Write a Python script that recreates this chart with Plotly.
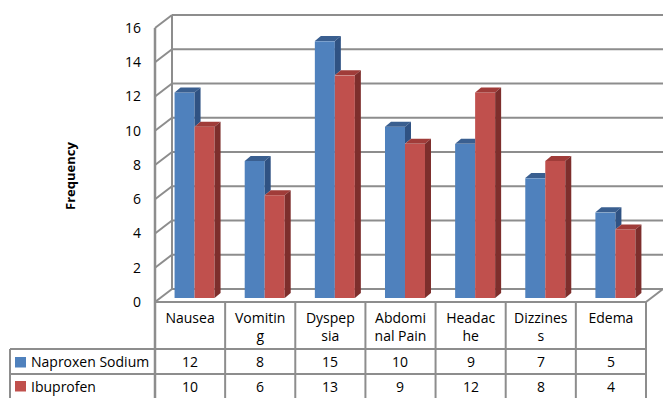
import plotly.graph_objects as go

# ---- data -------------------------------------------------------------
categories = ["Nausea", "Vomiting", "Dyspepsia", "Abdominal Pain",
              "Headache", "Dizziness", "Edema"]
header_labels = ["Nausea", "Vomitin<br>g", "Dyspep<br>sia", "Abdomi<br>nal Pain",
                 "Headac<br>he", "Dizzines<br>s", "Edema"]
naproxen = [12, 8, 15, 10, 9, 7, 5]
ibuprofen = [10, 6, 13, 9, 12, 8, 4]
series_names = ["Naproxen Sodium", "Ibuprofen"]
y_ticks = [0, 2, 4, 6, 8, 10, 12, 14, 16]

# ---- page geometry (pixels) ------------------------------------------
W, H = 663, 398
X0 = 155.0      # front-left edge of the plot floor
CW = 70.14      # width of one category column
Y0 = 302.0      # front zero line
UV = 17.125     # pixels per unit of frequency

def vx(px):
    return (px - X0) / CW

def vy(py):
    return (Y0 - py) / UV

# 3-D projection offsets expressed in axis units
WDX, WDY = 17 / CW, 13 / UV      # depth of the walls
BDX, BDY = 4.5 / CW, 4 / UV      # front face of the columns
SDX, SDY = 6 / CW, 5 / UV        # depth of each column
BW = 20 / CW                     # column width

FONT = "Open Sans"
BLUE, BLUE_TOP, BLUE_SIDE = "#4F81BD", "#3A5F90", "#2F5283"
RED, RED_TOP, RED_SIDE = "#C0504D", "#A03C39", "#7D2E2C"
GRID = "#8D8D8D"

n = len(categories)
fig = go.Figure()

# front faces of the columns
for vals, name, color, side in [(naproxen, series_names[0], BLUE, -1),
                                (ibuprofen, series_names[1], RED, 1)]:
    fig.add_trace(go.Bar(
        x=[i + 0.5 + BDX + side * BW / 2 for i in range(n)],
        y=vals,
        base=[BDY] * n,
        width=BW,
        name=name,
        marker=dict(color=color, line=dict(width=0)),
        showlegend=False,
        hovertemplate="%{y}<extra>" + name + "</extra>",
    ))

shapes = []

def poly(pts, color, layer="above"):
    path = "M " + " L ".join(f"{x:.5f},{y:.5f}" for x, y in pts) + " Z"
    return dict(type="path", path=path, xref="x", yref="y",
                fillcolor=color, line=dict(width=0), layer=layer)

def seg(x0, y0, x1, y1, color=GRID, width=2, layer="below"):
    return dict(type="line", x0=x0, y0=y0, x1=x1, y1=y1, xref="x", yref="y",
                line=dict(color=color, width=width), layer=layer)

# walls and floor
x_right = vx(W)
for t in y_ticks:
    shapes.append(seg(WDX, t + WDY, x_right, t + WDY))      # back wall
    shapes.append(seg(0, t, WDX, t + WDY))                  # side wall
shapes.append(seg(WDX, WDY, WDX, y_ticks[-1] + WDY))        # back corner
shapes.append(seg(n, 0, n + WDX, WDY))                      # floor right edge

# tops and sides of the columns
for i in range(n):
    pc = i + 0.5 + BDX
    tb = BDY + naproxen[i]
    tr = BDY + ibuprofen[i]
    bl, br = pc - BW, pc
    if tb > tr:
        shapes.append(poly([(bl, tb), (br, tb), (br + SDX, tb + SDY), (bl + SDX, tb + SDY)], BLUE_TOP))
        shapes.append(poly([(br, tr), (br, tb), (br + SDX, tb + SDY), (br + SDX, tr + SDY)], BLUE_SIDE))
    else:
        shapes.append(poly([(bl, tb), (br, tb), (br, tb + SDY), (bl + SDX, tb + SDY)], BLUE_TOP))
    rl, rr = pc, pc + BW
    shapes.append(poly([(rl, tr), (rr, tr), (rr + SDX, tr + SDY), (rl + SDX, tr + SDY)], RED_TOP))
    shapes.append(poly([(rr, BDY), (rr, tr), (rr + SDX, tr + SDY), (rr + SDX, BDY + SDY)], RED_SIDE))

# data table grid
y_bottom = vy(H + 2)
row1, row2 = vy(349), vy(374)
shapes.append(seg(0, y_ticks[-1], 0, y_bottom, width=2.5, layer="above"))   # front-left edge
shapes.append(seg(0, 0, n, 0, layer="above"))                               # floor front / table top
for k in range(1, n + 1):
    shapes.append(seg(k, 0, k, y_bottom, layer="above"))
for yy in (row1, row2):
    shapes.append(seg(vx(10), yy, n, yy, layer="above"))
shapes.append(seg(vx(10), row1, vx(10), y_bottom, layer="above"))

# legend keys inside the table
for color, top in [(BLUE, 357), (RED, 381)]:
    shapes.append(dict(type="rect", xref="x", yref="y",
                       x0=vx(15), x1=vx(26), y0=vy(top), y1=vy(top + 10.5),
                       fillcolor=color, line=dict(width=0), layer="above"))

annotations = []
for name, py in [(series_names[0], 361.5), (series_names[1], 386)]:
    annotations.append(dict(x=vx(29), y=vy(py), xref="x", yref="y", text=name,
                            showarrow=False, xanchor="left", yanchor="middle",
                            font=dict(family=FONT, size=14, color="#000000")))
for vals, py in [(naproxen, 361.5), (ibuprofen, 386)]:
    for i, v in enumerate(vals):
        annotations.append(dict(x=i + 0.5, y=vy(py), xref="x", yref="y", text=str(v),
                                showarrow=False, xanchor="center", yanchor="middle",
                                font=dict(family=FONT, size=14, color="#000000")))

annotations.append(dict(x=vx(70), y=vy(176), xref="x", yref="y", text="<b>Frequency</b>",
                        textangle=-90, showarrow=False, xanchor="center", yanchor="middle",
                        font=dict(family=FONT, size=13, color="#000000")))

fig.update_layout(
    width=W, height=H,
    margin=dict(l=0, r=0, t=0, b=0),
    paper_bgcolor="white", plot_bgcolor="white",
    barmode="overlay",
    showlegend=False,
    shapes=shapes,
    annotations=annotations,
    xaxis=dict(range=[vx(0), vx(W)], domain=[0, 1], anchor="free",
               position=(H - Y0) / H,
               tickmode="array", tickvals=[i + 0.5 for i in range(n)],
               ticktext=header_labels, tickangle=0, ticks="",
               ticklabelstandoff=6,
               showgrid=False, zeroline=False, showline=False,
               tickfont=dict(family=FONT, size=14, color="#000000"),
               fixedrange=True),
    yaxis=dict(range=[vy(H), vy(0)], domain=[0, 1], anchor="free",
               position=141 / W,
               tickmode="array", tickvals=y_ticks, ticks="",
               showgrid=False, zeroline=False, showline=False,
               tickfont=dict(family=FONT, size=14, color="#000000"),
               fixedrange=True),
)

fig.write_html("out.html")
